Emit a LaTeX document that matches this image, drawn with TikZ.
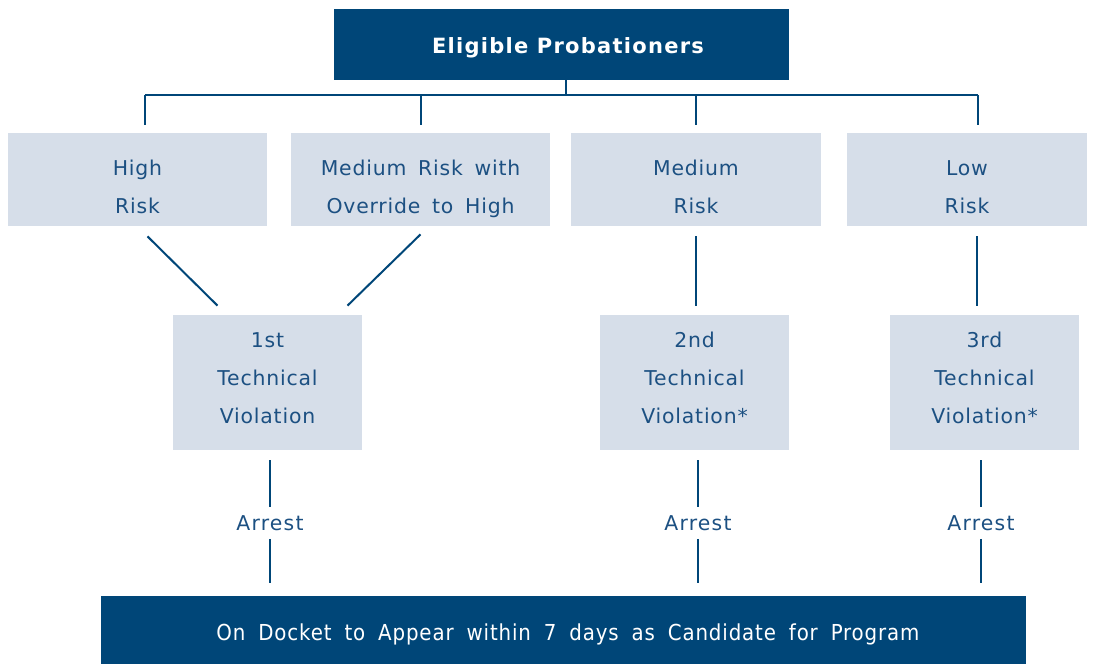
\documentclass[tikz,border=0pt]{standalone}
\usepackage{fontspec}
\setmainfont{DejaVu Sans}
\newfontfamily\boxfont[LetterSpace=4,WordSpace=1.6]{DejaVu Sans}
\newfontfamily\arrestfont[LetterSpace=6]{DejaVu Sans}
\newfontfamily\topfont[LetterSpace=6]{DejaVu Sans}
\newfontfamily\condfont[LetterSpace=4,WordSpace=1.8]{DejaVu Sans Condensed}
\usetikzlibrary{calc}

\definecolor{navy}{RGB}{0,70,120}
\definecolor{pale}{RGB}{214,222,233}
\definecolor{ink}{RGB}{28,80,130}

\tikzset{
	darkbox/.style={fill=navy, text=white, inner sep=0pt},
	lightbox/.style={fill=pale, text=ink, align=center, inner sep=0pt,
		font={\boxfont\fontsize{10.2}{19}\selectfont}},
	riskbox/.style={lightbox, minimum height=46.5pt, text height=33.9pt, text depth=0pt},
	violbox/.style={lightbox, minimum width=94.5pt, minimum height=67.5pt, text height=40.9pt, text depth=0pt},
	arrest/.style={text=ink, inner sep=4pt, font={\arrestfont\fontsize{10.2}{12}\selectfont}},
	link/.style={draw=navy, line width=1pt},
	nudge/.style 2 args={execute at begin node={\rule{0pt}{#2}\hspace*{#1}}},
}

\begin{document}
\begin{tikzpicture}[x=0.5pt, y=-0.5pt]
	\useasboundingbox (0,0) rectangle (1099,664);
	% top
	\node[darkbox, minimum width=227.5pt, minimum height=35.5pt, nudge={6.5pt}{11pt},
		font={\topfont\fontsize{10.5}{12}\selectfont\bfseries}] (elig) at (561.5,44.5) {Eligible Probationers};
	% risk levels
	\node[riskbox, minimum width=129.5pt] (high) at (137.5,179.5) {High\\Risk};
	\node[riskbox, minimum width=129.5pt] (ovr) at (420.5,179.5) {Medium Risk with\\Override to High};
	\node[riskbox, minimum width=125pt] (med) at (696,179.5) {Medium\\Risk};
	\node[riskbox, minimum width=120pt] (low) at (967,179.5) {Low\\Risk};
	% violations
	\node[violbox] (first) at (267.5,382.5) {1st\\Technical\\Violation};
	\node[violbox] (second) at (694.5,382.5) {2nd\\Technical\\Violation*};
	\node[violbox] (third) at (984.5,382.5) {3rd\\Technical\\Violation*};
	\node[arrest] (arr1) at (270,523) {Arrest};
	\node[arrest] (arr2) at (698,523) {Arrest};
	\node[arrest] (arr3) at (981,523) {Arrest};
	% bottom
	\node[darkbox, minimum width=462.5pt, minimum height=34pt, nudge={4.5pt}{12.4pt},
		font={\condfont\fontsize{11}{13}\selectfont}] (docket) at (563.5,630) {On Docket to Appear within 7 days as Candidate for Program};

	% tree
	\coordinate (bar) at (566,95);
	\coordinate (b1) at (145,95);
	\coordinate (b2) at (421,95);
	\coordinate (b3) at (696,95);
	\coordinate (b4) at (978,95);
	\draw[link] (elig.south -| bar) -- (bar);
	\draw[link] (b1) -- (b4);
	\foreach \b/\n in {b1/high, b2/ovr, b3/med, b4/low}
		\draw[link] (\b) -- ($(\b |- \n.north)+(0,-8)$);
	% into violations
	\draw[link] ($(high.south)+(10,10)$) -- ($(first.north)+(-50,-9)$);
	\draw[link] ($(ovr.south)+(0,8)$) -- ($(first.north)+(80,-9)$);
	\draw[link] ($(med.south)+(0,10)$) -- ($(med.south |- second.north)+(0,-9)$);
	\draw[link] ($(low.south)+(10,10)$) -- ($(low.south |- third.north)+(10,-9)$);
	% arrests
	\foreach \v/\a in {first/arr1, second/arr2, third/arr3} {
		\draw[link] ($(\v.south -| \a)+(0,10)$) -- (\a.north);
		\draw[link] (\a.south) -- ($(\a |- docket.north)+(0,-13)$);
	}
\end{tikzpicture}
\end{document}
